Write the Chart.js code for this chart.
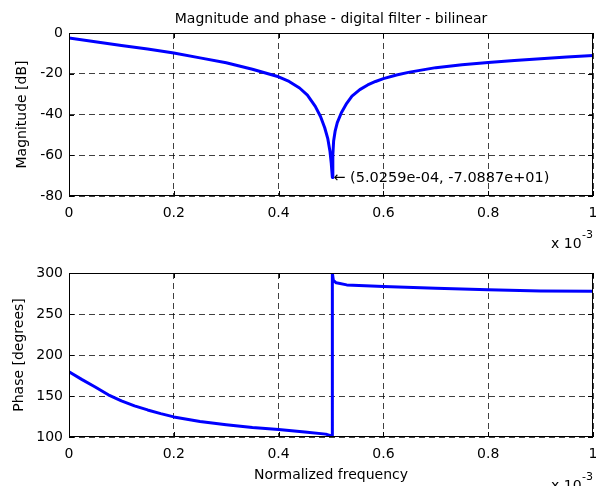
<!DOCTYPE html>
<html>
<head>
<meta charset="utf-8">
<script src="https://cdn.jsdelivr.net/npm/chart.js@4.4.0/dist/chart.umd.min.js"></script>
<style>
  html, body { margin: 0; padding: 0; background: #fff; }
  .box { position: absolute; left: 0; width: 596px; }
</style>
</head>
<body>
<div class="box" style="top:0;height:258px"><canvas id="magChart" width="596" height="258"></canvas></div>
<div class="box" style="top:258px;height:228px"><canvas id="phaseChart" width="596" height="228"></canvas></div>
<script>
// frequency is in units of 1e-3 (hence the "x 10^-3" under each axis)
const magFreq = [0, 0.05, 0.1, 0.15, 0.2, 0.25, 0.3, 0.35, 0.4, 0.42, 0.44, 0.455, 0.47, 0.48, 0.488, 0.494, 0.498, 0.5005, 0.50259, 0.5035, 0.505, 0.508, 0.512, 0.52, 0.53, 0.54, 0.555, 0.57, 0.585, 0.6, 0.625, 0.65, 0.7, 0.75, 0.8, 0.85, 0.9, 0.95, 1.0];
const magDb = [-2.5, -4.3, -6.1, -7.9, -9.8, -12.2, -14.6, -17.8, -21.5, -23.8, -27, -30.5, -36, -41, -46.5, -52, -58, -64, -70.887, -60, -53, -48, -44, -39, -34.5, -31, -27.8, -25.5, -23.8, -22.4, -20.6, -19.2, -17.0, -15.6, -14.5, -13.5, -12.6, -11.8, -11.1];

const phaseFreq = [0, 0.025, 0.05, 0.075, 0.1, 0.125, 0.15, 0.175, 0.2, 0.25, 0.3, 0.35, 0.4, 0.45, 0.49, 0.5024, 0.50259, 0.5045, 0.51, 0.53, 0.6, 0.7, 0.8, 0.9, 1.0];
const phaseDeg = [179.5, 170, 161, 151.5, 144, 138, 133, 128.5, 124.5, 119, 115, 111.5, 109, 106, 103.5, 101, 300, 291, 288, 285.5, 283.5, 281.5, 279.5, 278, 277.8];

const xTicks = [0, 0.2, 0.4, 0.6, 0.8, 1];
const magTicks = [-80, -60, -40, -20, 0];
const phaseTicks = [100, 150, 200, 250, 300];

// data tip on the notch
const notchFreq = 0.50259;
const notchMag = -70.887;
const notchLabel = '\u2190 (5.0259e-04, -7.0887e+01)';

const FONT = 'DejaVu Sans';

// MATLAB-ish frame: box, inward tick marks, exponent label, optional title / data tip
const frame = {
  id: 'frame',
  afterDatasetsDraw(chart, args, opts) {
    const { ctx, chartArea: a, scales: { x, y } } = chart;
    ctx.save();
    ctx.strokeStyle = '#000';
    ctx.lineWidth = 1;
    ctx.strokeRect(a.left + 0.5, a.top + 0.5, a.width - 1, a.height - 1);

    ctx.beginPath();
    x.ticks.forEach(t => {
      const px = Math.round(x.getPixelForValue(t.value)) + 0.5;
      ctx.moveTo(px, a.bottom); ctx.lineTo(px, a.bottom - 5);
      ctx.moveTo(px, a.top); ctx.lineTo(px, a.top + 5);
    });
    y.ticks.forEach(t => {
      const py = Math.round(y.getPixelForValue(t.value)) + 0.5;
      ctx.moveTo(a.left, py); ctx.lineTo(a.left + 5, py);
      ctx.moveTo(a.right, py); ctx.lineTo(a.right - 5, py);
    });
    ctx.stroke();

    ctx.fillStyle = '#000';
    ctx.textAlign = 'left';
    ctx.textBaseline = 'alphabetic';
    ctx.font = '14px "' + FONT + '"';
    ctx.fillText('x 10', 551, opts.expY);
    ctx.font = '11px "' + FONT + '"';
    ctx.fillText('-3', 582, opts.expY - 10);

    if (opts.title) {
      ctx.font = '14px "' + FONT + '"';
      ctx.textAlign = 'center';
      ctx.fillText(opts.title, (a.left + a.right) / 2, 23);
    }
    if (opts.tip) {
      ctx.font = '14.5px "' + FONT + '"';
      ctx.textAlign = 'left';
      ctx.textBaseline = 'middle';
      ctx.fillText(opts.tip.text, x.getPixelForValue(opts.tip.x) + 1, y.getPixelForValue(opts.tip.y) + 1);
    }
    ctx.restore();
  }
};

function makeChart(id, freq, vals, yTicks, yTitle, xTitle, pad, xHeight, frameOpts, yTitlePad) {
  const tickFont = { family: FONT, size: 14 };
  return new Chart(document.getElementById(id), {
    type: 'line',
    data: {
      datasets: [{
        data: freq.map((f, i) => ({ x: f, y: vals[i] })),
        borderColor: '#0000ff',
        borderWidth: 3,
        pointRadius: 0,
        tension: 0,
        borderJoinStyle: 'round'
      }]
    },
    options: {
      responsive: false,
      animation: false,
      layout: { padding: { top: pad, right: 3, left: 0, bottom: 0 } },
      plugins: { legend: { display: false }, tooltip: { enabled: false }, frame: frameOpts },
      scales: {
        x: {
          type: 'linear',
          min: 0, max: 1,
          afterBuildTicks: s => { s.ticks = xTicks.map(v => ({ value: v })); },
          afterFit: s => { s.height = xHeight; s.paddingLeft = 0; s.paddingRight = 0; },
          grid: { color: 'rgba(0,0,0,0.75)', drawTicks: false },
          border: { display: false, dash: [6, 4] },
          ticks: { color: '#000', font: tickFont, padding: 9, maxRotation: 0, autoSkip: false,
                   callback: v => String(+v.toFixed(1)) },
          title: { display: !!xTitle, text: xTitle, color: '#000', font: tickFont, padding: { top: 0, bottom: 2 } }
        },
        y: {
          min: yTicks[0], max: yTicks[yTicks.length - 1],
          afterBuildTicks: s => { s.ticks = yTicks.map(v => ({ value: v })); },
          afterFit: s => { s.width = 69; s.paddingTop = 0; s.paddingBottom = 0; },
          grid: { color: 'rgba(0,0,0,0.75)', drawTicks: false },
          border: { display: false, dash: [6, 4] },
          ticks: { color: '#000', font: tickFont, padding: 6, callback: v => String(v) },
          title: { display: true, text: yTitle, color: '#000', font: tickFont, padding: { top: yTitlePad, bottom: 0 } }
        }
      }
    },
    plugins: [frame]
  });
}

makeChart('magChart', magFreq, magDb, magTicks, 'Magnitude [dB]', '', 33, 62,
  { expY: 248, title: 'Magnitude and phase - digital filter - bilinear',
    tip: { x: notchFreq, y: notchMag, text: notchLabel } }, 14);

makeChart('phaseChart', phaseFreq, phaseDeg, phaseTicks, 'Phase [degrees]', 'Normalized frequency', 15, 49,
  { expY: 232 }, 10.5);
</script>
</body>
</html>
